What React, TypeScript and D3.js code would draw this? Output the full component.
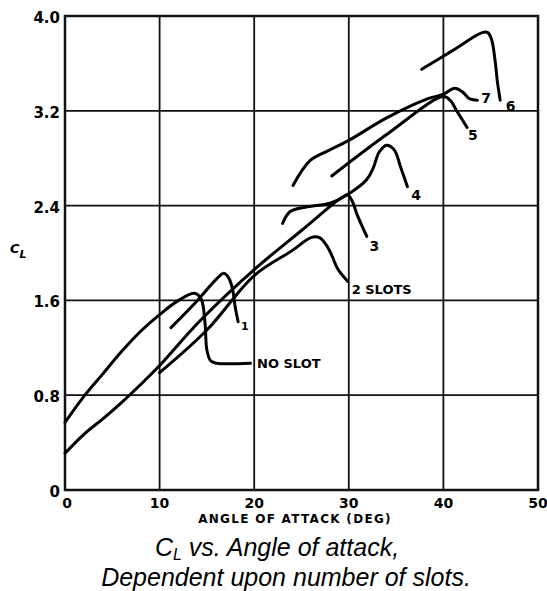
import * as d3 from "d3";
import * as React from "react";

// lift coefficient curves
const noSlot = [[0, 0.57], [2, 0.79], [4, 0.98], [6, 1.17], [8, 1.34], [10, 1.48], [12, 1.6], [13.7, 1.66], [14.4, 1.61], [14.8, 1.41], [15, 1.18], [15.4, 1.09], [16, 1.07], [19.6, 1.07]];
const slots1 = [[11.2, 1.37], [14, 1.6], [16, 1.78], [16.8, 1.83], [17.3, 1.79], [17.7, 1.7], [18, 1.54], [18.3, 1.42]];
const slots2 = [[10, 0.99], [15, 1.35], [20, 1.81], [24, 2.02], [26, 2.13], [26.9, 2.13], [27.6, 2.07], [28.2, 1.98], [28.8, 1.87], [29.9, 1.76]];
const slots3 = [[0, 0.31], [2, 0.47], [4, 0.6], [6, 0.74], [8, 0.89], [10, 1.05], [14.3, 1.43], [20, 1.86], [25, 2.19], [29.3, 2.47], [29.9, 2.49], [30.4, 2.43], [30.9, 2.32], [31.9, 2.14]];
const slots4 = [[23, 2.25], [23.8, 2.35], [25.6, 2.39], [28, 2.42], [30, 2.5], [31.9, 2.62], [32.6, 2.72], [33.2, 2.85], [34, 2.91], [34.8, 2.87], [35.5, 2.72], [36.2, 2.56]];
const slots5 = [[28.2, 2.65], [34, 3.0], [40, 3.32], [40.8, 3.28], [41.4, 3.2], [42.5, 3.06]];
const slots6 = [[37.7, 3.55], [41, 3.71], [44.1, 3.86], [44.7, 3.86], [45.1, 3.8], [45.5, 3.6], [45.7, 3.45], [46, 3.29]];
const slots7 = [[24.1, 2.57], [25.9, 2.78], [28, 2.87], [30, 2.95], [34, 3.14], [38.3, 3.3], [40, 3.34], [41.2, 3.39], [42, 3.36], [42.8, 3.3], [43.6, 3.29]];

const curveLabels = [
  { text: "NO SLOT", x: 20.3, y: 1.07, size: 13 },
  { text: "1", x: 18.6, y: 1.38, size: 11 },
  { text: "2 SLOTS", x: 30.3, y: 1.69, size: 13 },
  { text: "3", x: 32.2, y: 2.06, size: 14 },
  { text: "4", x: 36.6, y: 2.49, size: 14 },
  { text: "5", x: 42.6, y: 3.0, size: 14 },
  { text: "6", x: 46.6, y: 3.24, size: 14 },
  { text: "7", x: 44.0, y: 3.31, size: 14 },
];

const xTicks = [0, 10, 20, 30, 40, 50];
const yTicks = [0, 0.8, 1.6, 2.4, 3.2, 4.0];

export default function App() {
  const ref = React.useRef(null);

  React.useEffect(() => {
    const width = 547;
    const height = 591;
    const margin = { top: 16, right: 9, bottom: 101, left: 65 };

    const x = d3.scaleLinear().domain([0, 50]).range([margin.left, width - margin.right]);
    const y = d3.scaleLinear().domain([0, 4]).range([height - margin.bottom, margin.top]);

    const svg = d3.select(ref.current);
    svg.selectAll("*").remove();
    svg.append("rect").attr("width", width).attr("height", height).attr("fill", "white");

    const bold = "'DejaVu Sans', sans-serif";

    // grid
    const grid = svg.append("g").attr("stroke", "#111").attr("stroke-width", 1.8);
    grid.selectAll("line.v")
      .data(xTicks.slice(1, -1))
      .join("line")
      .attr("x1", (d) => x(d)).attr("x2", (d) => x(d))
      .attr("y1", y(0)).attr("y2", y(4));
    grid.selectAll("line.h")
      .data(yTicks.slice(1, -1))
      .join("line")
      .attr("x1", x(0)).attr("x2", x(50))
      .attr("y1", (d) => y(d)).attr("y2", (d) => y(d));

    svg.append("rect")
      .attr("x", x(0)).attr("y", y(4))
      .attr("width", x(50) - x(0)).attr("height", y(0) - y(4))
      .attr("fill", "none").attr("stroke", "#111").attr("stroke-width", 2.5);

    // tick labels
    svg.append("g")
      .selectAll("text")
      .data(yTicks)
      .join("text")
      .attr("x", 60)
      .attr("y", (d) => y(d) + 7)
      .attr("text-anchor", "end")
      .attr("font-family", bold).attr("font-weight", "bold").attr("font-size", 15)
      .text((d) => (d === 0 ? "0" : d.toFixed(1)));

    svg.append("g")
      .selectAll("text")
      .data(xTicks)
      .join("text")
      .attr("x", (d) => x(d) + (d === 0 ? 2 : 0))
      .attr("y", y(0) + 18)
      .attr("text-anchor", "middle")
      .attr("font-family", bold).attr("font-weight", "bold").attr("font-size", 14)
      .text((d) => d);

    svg.append("text")
      .attr("x", 295).attr("y", 523)
      .attr("text-anchor", "middle")
      .attr("font-family", bold).attr("font-weight", "bold").attr("font-size", 12)
      .attr("letter-spacing", 1.3)
      .text("ANGLE OF ATTACK (DEG)");

    const cl = svg.append("text")
      .attr("x", 10).attr("y", 253)
      .attr("font-family", bold).attr("font-weight", "bold").attr("font-style", "italic")
      .attr("font-size", 13);
    cl.append("tspan").text("C");
    cl.append("tspan").attr("dy", 5).attr("font-size", 11).text("L");

    // curves
    const line = d3.line()
      .x((d) => x(d[0]))
      .y((d) => y(d[1]))
      .curve(d3.curveCatmullRom.alpha(0.5));

    svg.append("g")
      .selectAll("path")
      .data([noSlot, slots1, slots2, slots3, slots4, slots5, slots6, slots7])
      .join("path")
      .attr("d", line)
      .attr("fill", "none")
      .attr("stroke", "#000")
      .attr("stroke-width", 3)
      .attr("stroke-linejoin", "round")
      .attr("stroke-linecap", "round");

    svg.append("g")
      .selectAll("text")
      .data(curveLabels)
      .join("text")
      .attr("x", (d) => x(d.x))
      .attr("y", (d) => y(d.y))
      .attr("dy", "0.36em")
      .attr("font-family", bold).attr("font-weight", "bold")
      .attr("font-size", (d) => d.size)
      .text((d) => d.text);

    // caption
    const cap = "'Liberation Sans', Arial, sans-serif";
    const c1 = svg.append("text")
      .attr("x", 277).attr("y", 556)
      .attr("text-anchor", "middle")
      .attr("font-family", cap).attr("font-style", "italic").attr("font-size", 25);
    c1.append("tspan").text("C");
    c1.append("tspan").attr("dy", 4).attr("font-size", 16).text("L");
    c1.append("tspan").attr("dy", -4).text(" vs. Angle of attack,");

    svg.append("text")
      .attr("x", 286).attr("y", 586)
      .attr("text-anchor", "middle")
      .attr("font-family", cap).attr("font-style", "italic").attr("font-size", 25)
      .text("Dependent upon number of slots.");
  }, []);

  return (
    <svg
      ref={ref}
      width={547}
      height={591}
      style={{ position: "absolute", left: 0, top: 0 }}
    ></svg>
  );
}
